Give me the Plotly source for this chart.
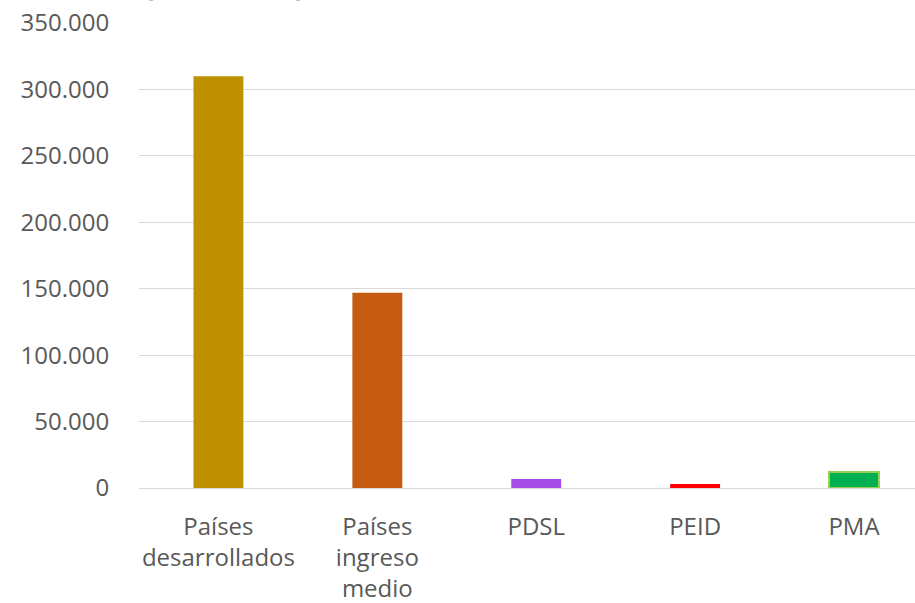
import plotly.graph_objects as go

categories = ["Países<br>desarrollados", "Países<br>ingreso<br>medio", "PDSL", "PEID", "PMA"]
values = [310000, 147000, 6800, 3000, 12000]
colors = ["#BF9000", "#C55A11", "#A64CE6", "#FF0000", "#00B050"]
line_colors = ["#BF9000", "#C55A11", "#A64CE6", "#FF0000", "#92D050"]
tick_vals = [0, 50000, 100000, 150000, 200000, 250000, 300000, 350000]
tick_text = ["0", "50.000", "100.000", "150.000", "200.000", "250.000", "300.000", "350.000"]
title_text = "(millones)"

FONT = "Open Sans, sans-serif"

fig = go.Figure()
fig.add_trace(go.Bar(
    x=list(range(len(categories))),
    y=values,
    marker=dict(color=colors, line=dict(color=line_colors, width=[0, 0, 0, 0, 2])),
    width=0.314,
))

W, H = 915, 603
fig.update_layout(
    width=W, height=H,
    margin=dict(l=138.5, r=0, t=23, b=115, pad=0),
    paper_bgcolor="white", plot_bgcolor="white",
    showlegend=False,
    font=dict(family=FONT, size=24, color="#595959"),
    xaxis=dict(
        tickmode="array", tickvals=list(range(len(categories))), ticktext=categories,
        range=[-0.5, 4.384], showgrid=False, zeroline=False, showline=False,
        ticks="outside", ticklen=17, tickcolor="rgba(0,0,0,0)",
        tickfont=dict(size=24, color="#595959", family=FONT),
    ),
    yaxis=dict(
        range=[0, 350000], tickmode="array", tickvals=tick_vals, ticktext=tick_text,
        showgrid=True, gridcolor="#D9D9D9", gridwidth=1.3, zeroline=True,
        zerolinecolor="#D9D9D9", zerolinewidth=1.3, showline=False,
        ticks="outside", ticklen=24, tickcolor="rgba(0,0,0,0)",
        tickfont=dict(size=24, color="#595959", family=FONT),
    ),
    annotations=[dict(
        text="<b>" + title_text + "</b>", xref="paper", yref="paper",
        x=0.11, y=1.035, xanchor="center", yanchor="bottom", showarrow=False,
        font=dict(size=33, color="#000000", family=FONT),
    )],
)

fig.write_html("out.html", config={"displayModeBar": False},
               post_script="document.body.style.margin='0';document.body.style.padding='0';")
